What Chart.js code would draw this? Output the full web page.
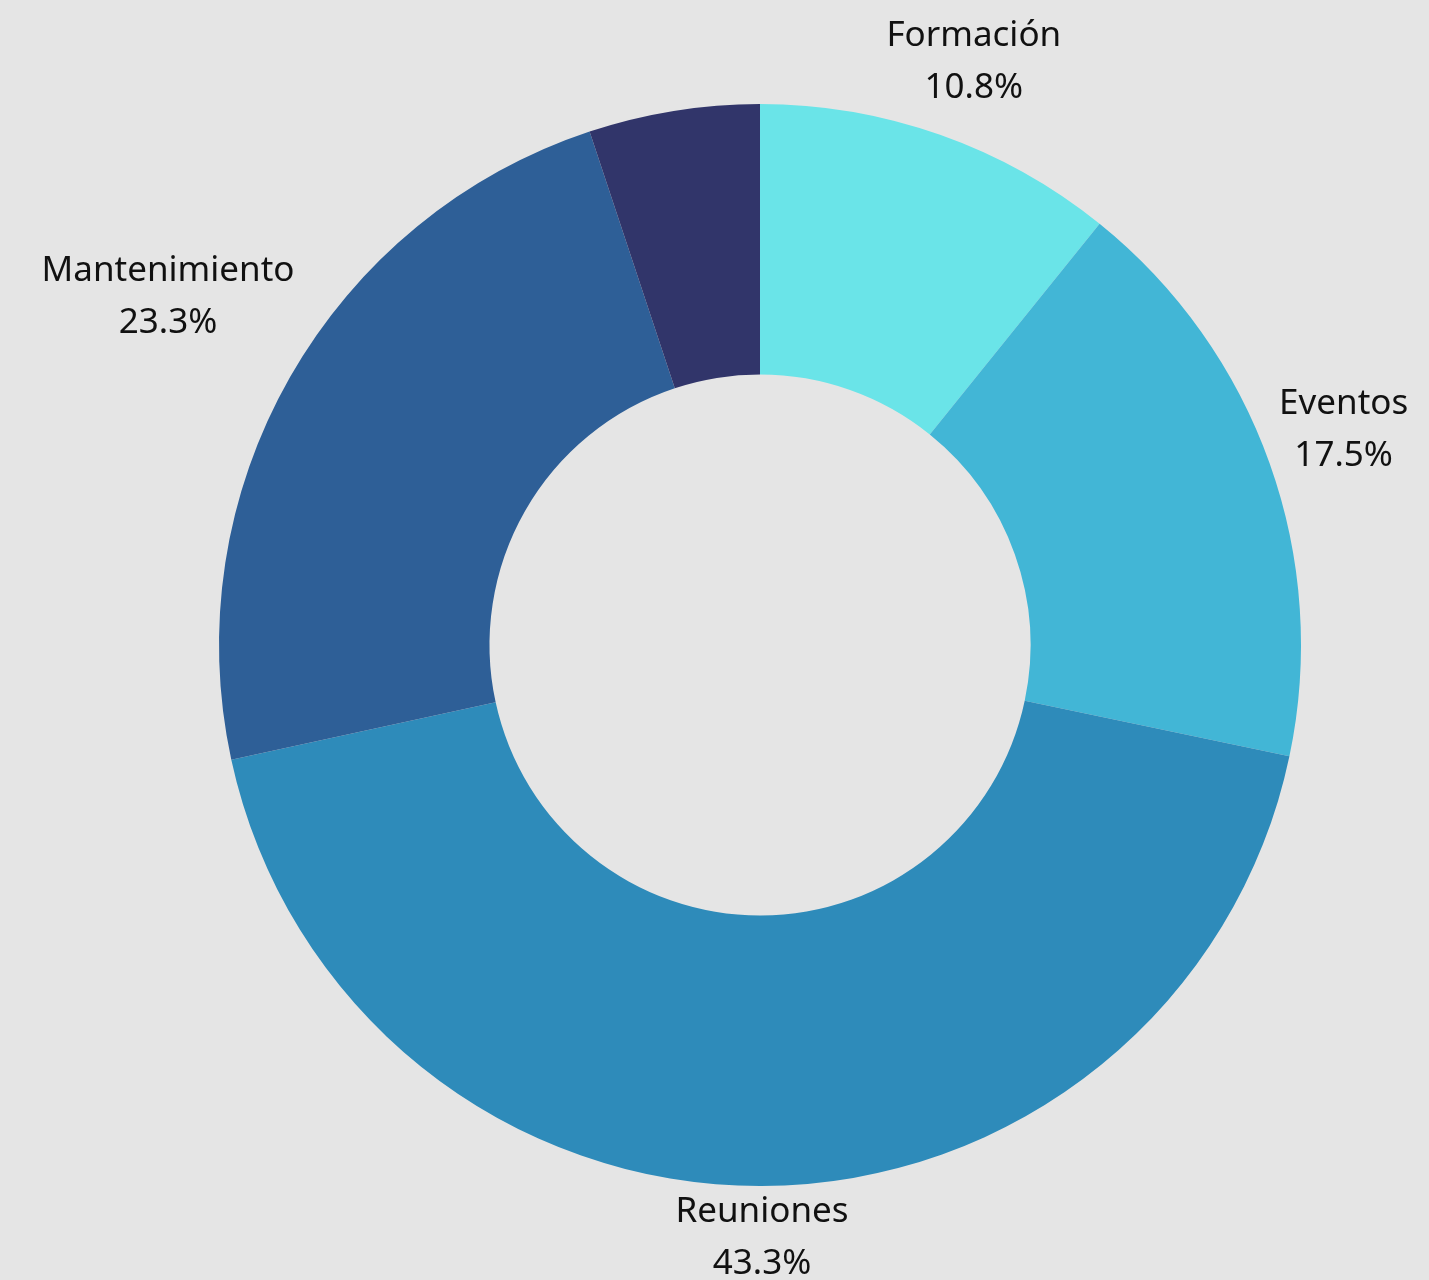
<!DOCTYPE html>
<html>
<head>
<meta charset="utf-8">
<script src="https://cdn.jsdelivr.net/npm/chart.js@4.4.0/dist/chart.umd.min.js"></script>
<style>
  html, body { margin: 0; padding: 0; background: #e5e5e5; }
  #wrap { width: 1429px; height: 1280px; position: relative; }
</style>
</head>
<body>
<div id="wrap"><canvas id="graficoTorta"></canvas></div>
<script>
// categorie e valori (percentuali)
var categorie = ["Formación", "Eventos", "Reuniones", "Mantenimiento", ""];
var percentuali = [10.8, 17.5, 43.3, 23.3, 5.1];
var colori = ["#6ae4e8", "#42b6d6", "#2e8bba", "#2e5f97", "#31356a"];

// etichette esterne: nome + percentuale
var etichetteEsterne = {
  id: "etichetteEsterne",
  afterDraw: function(chart, args, opts) {
    var ctx = chart.ctx;
    var meta = chart.getDatasetMeta(0);
    var spostY = opts.spostY || {};
    ctx.save();
    ctx.font = "35px 'Noto Sans'";
    ctx.fillStyle = "#111111";
    ctx.textAlign = "center";
    ctx.textBaseline = "middle";
    var lineH = 52;
    for (var i = 0; i < meta.data.length; i++) {
      if (!categorie[i]) continue;
      var arc = meta.data[i];
      var ang = (arc.startAngle + arc.endAngle) / 2;
      var dx = Math.cos(ang), dy = Math.sin(ang);
      var r = arc.outerRadius + 14;
      var px = arc.x + r * dx, py = arc.y + r * dy;
      var testo2 = percentuali[i].toFixed(1) + "%";
      var w = Math.max(ctx.measureText(categorie[i]).width, ctx.measureText(testo2).width);
      var h = 100;
      var cx = px + dx * w / 2;
      var cy = py + dy * h / 2 - 12 + (spostY[categorie[i]] || 0);
      ctx.fillText(categorie[i], cx, cy - lineH / 2);
      ctx.fillText(testo2, cx, cy + lineH / 2);
    }
    ctx.restore();
  }
};

var grafico = new Chart(document.getElementById("graficoTorta"), {
  type: "doughnut",
  data: {
    labels: categorie,
    datasets: [{
      data: percentuali,
      backgroundColor: colori,
      borderWidth: 0,
      hoverOffset: 0
    }]
  },
  options: {
    responsive: true,
    maintainAspectRatio: false,
    animation: false,
    cutout: "50%",
    layout: { padding: { top: 104, bottom: 94, left: 219, right: 128 } },
    plugins: {
      legend: { display: false },
      tooltip: { enabled: false },
      etichetteEsterne: { spostY: { "Mantenimiento": -36 } }
    }
  },
  plugins: [etichetteEsterne]
});
</script>
</body>
</html>
